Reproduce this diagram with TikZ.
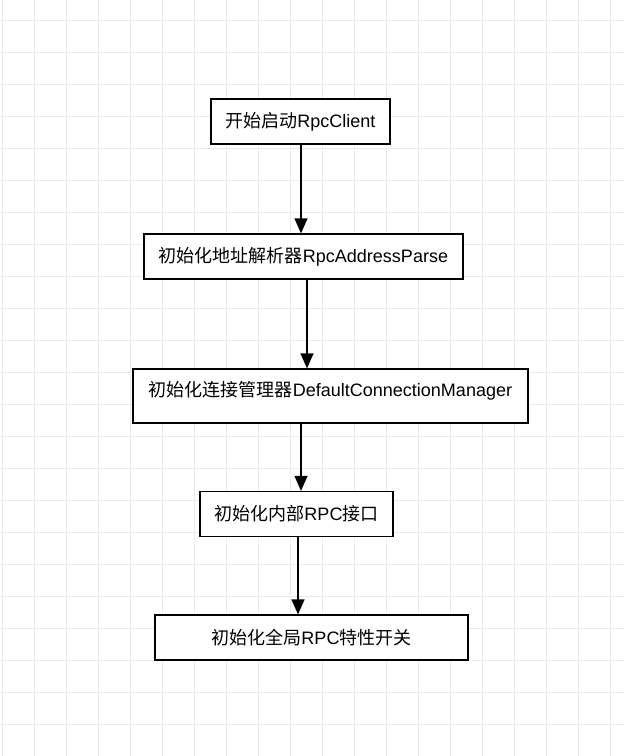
\documentclass[tikz,border=0pt]{standalone}
\usepackage{fontspec}
\setmainfont{Liberation Sans}
\newfontfamily\cjk{Noto Sans CJK SC}
\usetikzlibrary{arrows.meta}
\begin{document}
\begin{tikzpicture}[x=1pt,y=-1pt,
  box/.style={draw=black,line width=1.3pt,fill=white,inner sep=0pt,font=\fontsize{18}{21}\selectfont},
  lbl/.style={inner sep=0pt,font=\fontsize{18}{21}\selectfont},
  arr/.style={line width=1.3pt,-{Triangle[length=15pt,width=13pt]}},
  gridline/.style={line width=1pt,draw={rgb,255:red,235;green,235;blue,235}}]
\useasboundingbox (0,0) rectangle (624,756);
\fill[white] (0,0) rectangle (624,756);
\foreach \gx in {2,34,...,610} {\draw[gridline] (\gx,0) -- (\gx,756);}
\foreach \gy in {20,52,...,756} {\draw[gridline] (0,\gy) -- (624,\gy);}
\node[box,minimum width=179pt,minimum height=45pt] (c1) at (300.5,121.5) {{\cjk 开始启动}RpcClient};
\node[box,minimum width=319pt,minimum height=45pt] (c2) at (303.5,256.5) {{\cjk 初始化地址解析器}RpcAddressParse};
\node[box,minimum width=395pt,minimum height=54pt] (c3) at (330.5,396) {};
\node[lbl] (c3t) at ([yshift=-22pt]c3.north) {{\cjk 初始化连接管理器}DefaultConnectionManager};
\node[box,minimum width=193pt,minimum height=45pt] (c4) at (296.5,514) {{\cjk 初始化内部}RPC{\cjk 接口}};
\node[box,minimum width=313pt,minimum height=45pt] (c5) at (311.5,637.5) {{\cjk 初始化全局}RPC{\cjk 特性开关}};
\draw[arr] ([xshift=0.5pt]c1.south) -- ([xshift=0.5pt]c1.south |- c2.north);
\draw[arr] ([xshift=3.5pt]c2.south) -- ([xshift=3.5pt]c2.south |- c3.north);
\draw[arr] ([xshift=-29.5pt]c3.south) -- ([xshift=-29.5pt]c3.south |- c4.north);
\draw[arr] ([xshift=1.5pt]c4.south) -- ([xshift=1.5pt]c4.south |- c5.north);
\end{tikzpicture}
\end{document}
